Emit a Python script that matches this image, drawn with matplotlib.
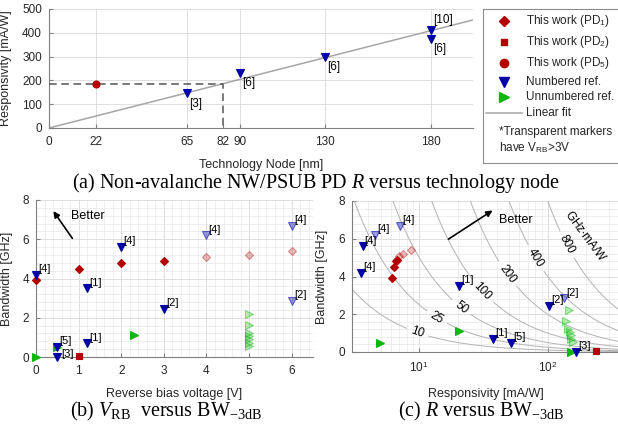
import numpy as np
import matplotlib
matplotlib.use('Agg')
import matplotlib.pyplot as plt
from matplotlib.ticker import MultipleLocator, FixedLocator, NullFormatter

plt.rcParams['font.family'] = ['Liberation Sans', 'DejaVu Sans']
plt.rcParams['mathtext.fontset'] = 'custom'
plt.rcParams['mathtext.rm'] = 'Liberation Serif'
plt.rcParams['mathtext.it'] = 'Liberation Serif:italic'
plt.rcParams['mathtext.sf'] = 'Liberation Sans'

# ---- (a) responsivity vs technology node
node_ticks = [0, 22, 65, 82, 90, 130, 180]
node_pd5 = [22]
resp_pd5 = [185]
node_ref = [65, 90, 130, 180, 180]
resp_ref = [145, 230, 300, 410, 375]
ref_a_labels = ['[3]', '[6]', '[6]', '[10]', '[6]']
fit_slope = 2.27          # mA/W per nm
node_this = 82
resp_this = 185

# ---- (b)/(c) this work
vrb_pd1 = [0, 1, 2, 3, 4, 5, 6]
r_pd1 = [6.15, 6.41, 6.6, 6.77, 7.0, 7.46, 8.6]
bw_pd1 = [3.9, 4.5, 4.8, 4.9, 5.1, 5.2, 5.4]
vrb_pd2 = [1]
r_pd2 = [237]
bw_pd2 = [0.05]

# numbered references (V_RB <= 3V)
num_labels = ['[4]', '[4]', '[1]', '[2]', '[1]', '[5]', '[3]']
vrb_num = [0, 2, 1.2, 3, 1.2, 0.5, 0.5]
r_num = [3.53, 3.63, 20.3, 102, 37.6, 52, 165]
bw_num = [4.2, 5.6, 3.5, 2.45, 0.7, 0.5, 0.0]
# numbered references (V_RB > 3V)
num_hv_labels = ['[4]', '[4]', '[2]']
vrb_num_hv = [4, 6, 6]
r_num_hv = [4.53, 7.1, 134]
bw_num_hv = [6.2, 6.7, 2.85]

# unnumbered references
vrb_unn = [0, 0.5, 2.3]
r_unn = [151, 4.96, 20.5]
bw_unn = [0.0, 0.5, 1.1]
vrb_unn_hv = [5, 5, 5, 5, 5, 5, 5]
r_unn_hv = [147, 138, 145, 149, 151, 153, 156]
bw_unn_hv = [2.2, 1.65, 1.2, 1.05, 0.9, 0.7, 0.55]

# constant R*BW curves [GHz.mA/W]
fom_levels = [10, 25, 50, 100, 200, 400, 800]

RED = (0.7, 0, 0)
BLUE = (0, 0, 0.66)
GREEN = (0.05, 0.72, 0.05)
FIT = '#a6a6a6'
AXC = '#7f7f7f'
TXT = '#262626'
TICK_FS = 8.5
LAB_FS = 9


def faded(c, a):
    return (c[0], c[1], c[2], a)


def style_axes(ax):
    for s in ['top', 'right']:
        ax.spines[s].set_visible(False)
    for s in ['left', 'bottom']:
        ax.spines[s].set_color(AXC)
        ax.spines[s].set_linewidth(0.8)
    ax.tick_params(which='major', direction='in', length=3, color=AXC,
                   labelsize=TICK_FS, labelcolor=TXT, pad=5)
    ax.tick_params(which='minor', length=0)
    ax.tick_params(axis='x', pad=6)
    ax.grid(True, which='major', color='#d9d9d9', lw=0.6, zorder=0)
    ax.set_axisbelow(True)


def pts(ax, x, y, marker, color, ms, alpha=None):
    fc = color if alpha is None else faded(color, alpha)
    ec = color if alpha is None else faded(color, min(1, alpha + 0.15))
    ax.plot(x, y, ls='none', marker=marker, ms=ms, mfc=fc, mec=ec,
            mew=0.8, clip_on=False, zorder=4)


def labels(ax, x, y, txt, offsets=None):
    for i, (xi, yi, t) in enumerate(zip(x, y, txt)):
        dx, dy = (1.5, 0.5) if offsets is None else offsets[i]
        ax.annotate(t, (xi, yi), xytext=(dx, dy), textcoords='offset points',
                    fontsize=8, color='k', ha='left', va='bottom', zorder=5)


fig = plt.figure(figsize=(6.18, 4.32), dpi=100)
W, H = 618, 432


def px_axes(l, t, r, b):
    return fig.add_axes([l / W, 1 - b / H, (r - l) / W, (b - t) / H])


# ================= (a)
axa = px_axes(49, 9, 473, 128)
style_axes(axa)
axa.set_xlim(0, 200)
axa.set_ylim(0, 500)
axa.xaxis.set_major_locator(FixedLocator(node_ticks))
axa.yaxis.set_major_locator(MultipleLocator(100))
axa.get_xgridlines()[3].set_visible(False)
xf = np.array([0, 200])
axa.plot(xf, fit_slope * xf, color=FIT, lw=1.1, zorder=2)
axa.plot([0, node_this, node_this], [resp_this, resp_this, 0], ls=(0, (5, 3)),
         color='#555555', lw=1.1, zorder=3)
pts(axa, node_pd5, resp_pd5, 'o', RED, 5)
pts(axa, node_ref, resp_ref, 'v', BLUE, 5.5)
va_a = ['top', 'top', 'top', 'bottom', 'top']
for xi, yi, t, v in zip(node_ref, resp_ref, ref_a_labels, va_a):
    axa.annotate(t, (xi, yi), xytext=(2, -3 if v == 'top' else 3),
                 textcoords='offset points', fontsize=8.5, ha='left', va=v)
axa.set_xlabel('Technology Node [nm]', fontsize=LAB_FS, color=TXT)
axa.set_ylabel('Responsivity [mA/W]', fontsize=LAB_FS, color=TXT)
axa.xaxis.set_label_coords(0.5, -0.26)
axa.yaxis.set_label_coords(-0.087, 0.5)

# legend box in pixel coords
axl = px_axes(483, 9, 622, 163)
axl.set_xlim(483, 622)
axl.set_ylim(163, 9)
axl.set_xticks([])
axl.set_yticks([])
for s in axl.spines.values():
    s.set_color('#8c8c8c')
    s.set_linewidth(0.8)
leg_rows = [('D', RED, 5, 21, 'This work (PD$_\\mathsf{1}$)'),
            ('s', RED, 5, 42, 'This work (PD$_\\mathsf{2}$)'),
            ('o', RED, 6, 63, 'This work (PD$_\\mathsf{5}$)'),
            ('v', BLUE, 6.5, 82, 'Numbered ref.'),
            ('>', GREEN, 6.5, 97, 'Unnumbered ref.')]
for m, c, ms, y, t in leg_rows:
    axl.plot([504], [y], marker=m, ms=ms, color=c, ls='none')
    axl.text(526, y, t, fontsize=8.5, va='center', ha='left', color=TXT)
axl.plot([486, 522], [113, 113], color=FIT, lw=1.1)
axl.text(526, 113, 'Linear fit', fontsize=8.5, va='center', ha='left', color=TXT)
axl.text(499, 132, '*Transparent markers', fontsize=8.5, va='center', ha='left', color=TXT)
axl.text(499, 148, 'have V$_{\\mathsf{RB}}$>3V', fontsize=8.5, va='center', ha='left', color=TXT)

# ================= (b)
axb = px_axes(36, 200, 313, 357)
style_axes(axb)
axb.set_xlim(0, 6.5)
axb.set_ylim(0, 8)
axb.xaxis.set_major_locator(MultipleLocator(1))
axb.xaxis.set_minor_locator(MultipleLocator(0.2))
axb.yaxis.set_major_locator(MultipleLocator(2))
axb.yaxis.set_minor_locator(MultipleLocator(0.4))
axb.grid(True, which='minor', color='#e8e8e8', lw=0.5, zorder=0)
pts(axb, vrb_unn_hv, bw_unn_hv, '>', GREEN, 5.5, alpha=0.3)
pts(axb, vrb_pd1[4:], bw_pd1[4:], 'D', RED, 4.5, alpha=0.25)
pts(axb, vrb_pd1[:4], bw_pd1[:4], 'D', RED, 4.5)
pts(axb, vrb_pd2, bw_pd2, 's', RED, 4.5)
pts(axb, vrb_unn, bw_unn, '>', GREEN, 5.5)
pts(axb, vrb_num_hv, bw_num_hv, 'v', BLUE, 5.5, alpha=0.4)
pts(axb, vrb_num, bw_num, 'v', BLUE, 5.5)
offs_b = [(1.5, 0.5)] * 6 + [(2.5, -1.5)]
labels(axb, vrb_num, bw_num, num_labels, offs_b)
labels(axb, vrb_num_hv, bw_num_hv, num_hv_labels)
axb.annotate('', xy=(0.37, 7.55), xytext=(0.89, 5.93),
             arrowprops=dict(arrowstyle='-|>', color='k', lw=1.2, mutation_scale=9))
axb.text(0.81, 7.2, 'Better', fontsize=9, ha='left', va='center')
axb.set_xlabel('Reverse bias voltage [V]', fontsize=LAB_FS, color=TXT)
axb.set_ylabel('Bandwidth [GHz]', fontsize=LAB_FS, color=TXT)
axb.xaxis.set_label_coords(0.5, -0.2)
axb.yaxis.set_label_coords(-0.084, 0.5)

# ================= (c)
axc = px_axes(352, 201, 620, 352)
style_axes(axc)
axc.set_xscale('log')
axc.set_xlim(3, 365)
axc.set_ylim(0, 8)
axc.xaxis.set_major_locator(FixedLocator([10, 100]))
axc.set_xticklabels(['10$^\\mathsf{1}$', '10$^\\mathsf{2}$'])
axc.xaxis.set_minor_locator(FixedLocator([3, 4, 5, 6, 7, 8, 9, 20, 30, 40, 50,
                                          60, 70, 80, 90, 200, 300]))
axc.xaxis.set_minor_formatter(NullFormatter())
axc.yaxis.set_major_locator(MultipleLocator(2))
axc.yaxis.set_minor_locator(MultipleLocator(0.4))
axc.grid(True, which='minor', color='#e8e8e8', lw=0.5, zorder=0)

# iso R*BW curves with inline labels
lab_r = [9.7, 13.7, 21.2, 30.9, 48.4, 80.6, 140.7]
xs = np.logspace(np.log10(3), np.log10(365), 800)
for lev, xl in zip(fom_levels, lab_r):
    ys = lev / xs
    yl = lev / xl
    p = axc.transData.transform(np.column_stack([xs, ys]))
    pl = axc.transData.transform((xl, yl))
    d = np.hypot(p[:, 0] - pl[0], p[:, 1] - pl[1])
    gap = 5 + 3.4 * len(str(lev))
    axc.plot(xs, np.where(d < gap, np.nan, ys), color='#b3b3b3', lw=0.7, zorder=1)
    p2 = axc.transData.transform((xl * 1.03, lev / (xl * 1.03)))
    ang = np.degrees(np.arctan2(p2[1] - pl[1], p2[0] - pl[0]))
    axc.text(xl, yl, str(lev), rotation=ang, rotation_mode='anchor',
             ha='center', va='center', fontsize=8.5, color='k', zorder=2)
pa = axc.transData.transform((198, 800 / 198))
pb = axc.transData.transform((198 * 1.03, 800 / (198 * 1.03)))
ang = np.degrees(np.arctan2(pb[1] - pa[1], pb[0] - pa[0]))
axc.text(198, 6.15, 'GHz$\\cdot$mA/W', rotation=ang, rotation_mode='anchor',
         ha='center', va='center', fontsize=8.5, color='k')

pts(axc, r_unn_hv, bw_unn_hv, '>', GREEN, 5.5, alpha=0.3)
pts(axc, r_pd1[4:], bw_pd1[4:], 'D', RED, 4.5, alpha=0.25)
pts(axc, r_pd1[:4], bw_pd1[:4], 'D', RED, 4.5)
pts(axc, r_pd2, bw_pd2, 's', RED, 4.5)
pts(axc, r_unn, bw_unn, '>', GREEN, 5.5)
pts(axc, r_num_hv, bw_num_hv, 'v', BLUE, 5.5, alpha=0.4)
pts(axc, r_num, bw_num, 'v', BLUE, 5.5)
labels(axc, r_num, bw_num, num_labels)
labels(axc, r_num_hv, bw_num_hv, num_hv_labels)
axc.annotate('', xy=(38.8, 7.58), xytext=(16.2, 5.9),
             arrowprops=dict(arrowstyle='-|>', color='k', lw=1.2, mutation_scale=9))
axc.text(41.6, 7.0, 'Better', fontsize=9, ha='left', va='center')
axc.set_xlabel('Responsivity [mA/W]', fontsize=LAB_FS, color=TXT)
axc.set_ylabel('Bandwidth [GHz]', fontsize=LAB_FS, color=TXT)
axc.xaxis.set_label_coords(0.5, -0.24)
axc.yaxis.set_label_coords(-0.09, 0.5)

# captions
cap = dict(fontsize=14.5, family='Liberation Serif', ha='center', va='center')
fig.text(316 / W, 1 - 183 / H,
         '(a) Non-avalanche NW/PSUB PD $\\mathit{R}$ versus technology node', **cap)
fig.text(166 / W, 1 - 411 / H,
         '(b) $\\mathit{V}_{\\mathrm{RB}}$  versus BW$_{\\mathrm{-3dB}}$', **cap)
fig.text(481 / W, 1 - 411 / H,
         '(c) $\\mathit{R}$ versus BW$_{\\mathrm{-3dB}}$', **cap)

fig.savefig('out.png', dpi=100)
